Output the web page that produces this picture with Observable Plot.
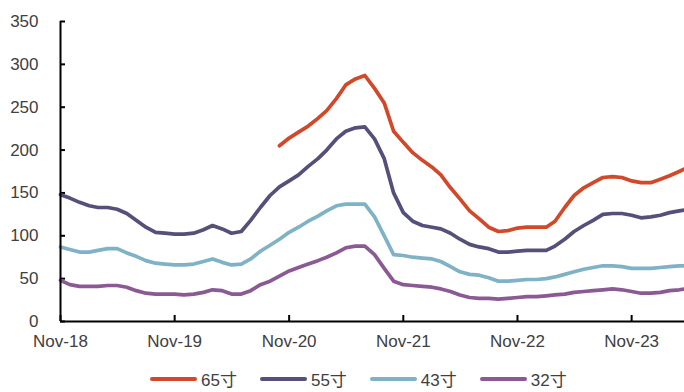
<!DOCTYPE html>
<html>
<head>
<meta charset="utf-8">
<script src="https://cdn.jsdelivr.net/npm/d3@7"></script>
<script src="https://cdn.jsdelivr.net/npm/@observablehq/plot@0.6"></script>
<style>
  html, body { margin: 0; padding: 0; background: #fff; }
  #wrap { width: 684px; font-family: "Liberation Sans", Arial, "Noto Sans CJK SC", sans-serif; }
  #legend { height: 30px; display: flex; align-items: center; color: #404040; font-size: 17px; padding-left: 150px; padding-top: 3px; box-sizing: border-box; }
  .item { display: flex; align-items: center; margin-right: 23px; }
  .sw { width: 47px; height: 4px; border-radius: 2px; margin-right: 4px; }
</style>
</head>
<body>
<div id="wrap"><div id="chart"></div><div id="legend"></div></div>
<script>
const dates = [
  "2018-11","2018-12",
  "2019-01","2019-02","2019-03","2019-04","2019-05","2019-06","2019-07","2019-08","2019-09","2019-10","2019-11","2019-12",
  "2020-01","2020-02","2020-03","2020-04","2020-05","2020-06","2020-07","2020-08","2020-09","2020-10","2020-11","2020-12",
  "2021-01","2021-02","2021-03","2021-04","2021-05","2021-06","2021-07","2021-08","2021-09","2021-10","2021-11","2021-12",
  "2022-01","2022-02","2022-03","2022-04","2022-05","2022-06","2022-07","2022-08","2022-09","2022-10","2022-11","2022-12",
  "2023-01","2023-02","2023-03","2023-04","2023-05","2023-06","2023-07","2023-08","2023-09","2023-10","2023-11","2023-12",
  "2024-01","2024-02","2024-03","2024-04","2024-04-18"
];
const seriesNames = ["65寸", "55寸", "43寸", "32寸"];
const colors = ["#d1492a", "#54507a", "#7fb2c5", "#8b5a95"];

const s65 = [
  null,null,
  null,null,null,null,null,null,null,null,null,null,null,null,
  null,null,null,null,null,null,null,null,null,205,214,221,
  228,237,246,260,276,283,287,272,255,222,209,197,
  188,180,171,156,143,129,120,110,105,106,109,110,
  110,110,117,133,147,156,162,168,169,168,164,162,
  162,166,170,175,178
];
const s55 = [
  148,144,
  139,135,133,133,131,126,118,110,104,103,102,102,
  103,107,112,108,103,105,118,133,147,157,164,171,
  181,190,200,213,222,226,227,213,190,150,127,117,
  112,110,108,103,96,90,87,85,81,81,82,83,
  83,83,88,96,105,112,118,125,126,126,124,121,
  122,124,127,129,130
];
const s43 = [
  87,84,
  81,81,83,85,85,80,76,71,68,67,66,66,
  67,70,73,69,66,67,73,82,89,96,104,110,
  117,123,129,135,137,137,137,122,100,78,77,75,
  74,73,70,64,58,55,54,51,47,47,48,49,
  49,50,52,55,58,61,63,65,65,64,62,62,
  62,63,64,65,65
];
const s32 = [
  48,43,
  41,41,41,42,42,40,36,33,32,32,32,31,
  32,34,37,36,32,32,36,43,47,53,59,63,
  67,71,75,80,86,88,88,78,62,47,43,42,
  41,40,38,35,31,28,27,27,26,27,28,29,
  29,30,31,32,34,35,36,37,38,37,35,33,
  33,34,36,37,38
];
const yTicks = [0, 50, 100, 150, 200, 250, 300, 350];
const xTickLabels = ["Nov-18", "Nov-19", "Nov-20", "Nov-21", "Nov-22", "Nov-23"];
const xTickDates = ["2018-11", "2019-11", "2020-11", "2021-11", "2022-11", "2023-11"].map(d => new Date(d));
const x0 = new Date(dates[0]);

const allSeries = [s65, s55, s43, s32];
const data = [];
allSeries.forEach((arr, si) => {
  arr.forEach((v, i) => data.push({date: new Date(dates[i]), value: v, series: seriesNames[si]}));
});

const fmt = new Map(xTickDates.map((d, i) => [+d, xTickLabels[i]]));

const chart = Plot.plot({
  width: 684,
  height: 362,
  marginLeft: 60,
  marginRight: 0,
  marginTop: 21,
  marginBottom: 41,
  style: {fontFamily: '"Liberation Sans", Arial, sans-serif', fontSize: "17px", color: "#404040", background: "#fff"},
  x: {type: "utc", domain: [x0, new Date("2024-04-18")]},
  y: {domain: [0, 350]},
  color: {domain: seriesNames, range: colors},
  marks: [
    Plot.axisY({ticks: yTicks, tickSize: 0, tickPadding: 22, fill: "#404040", label: null}),
    Plot.axisX({ticks: xTickDates, tickSize: 0, tickPadding: 13, tickFormat: d => fmt.get(+d), fill: "#404040", label: null}),
    Plot.ruleY(yTicks, {x1: x0, x2: x0, insetRight: -5, stroke: "#000", strokeWidth: 2}),
    Plot.ruleX(xTickDates, {y1: 0, y2: 0, insetTop: -6, stroke: "#000", strokeWidth: 2}),
    Plot.line(data, {x: "date", y: "value", z: "series", stroke: "series", strokeWidth: 3.7, curve: "linear"}),
    Plot.ruleX([x0], {stroke: "#000", strokeWidth: 2}),
    Plot.ruleY([0], {stroke: "#000", strokeWidth: 2})
  ]
});
document.getElementById("chart").appendChild(chart);

const legend = document.getElementById("legend");
seriesNames.forEach((n, i) => {
  const it = document.createElement("div");
  it.className = "item";
  const sw = document.createElement("span");
  sw.className = "sw";
  sw.style.background = colors[i];
  const lb = document.createElement("span");
  lb.textContent = n;
  it.appendChild(sw); it.appendChild(lb);
  legend.appendChild(it);
});
</script>
</body>
</html>
